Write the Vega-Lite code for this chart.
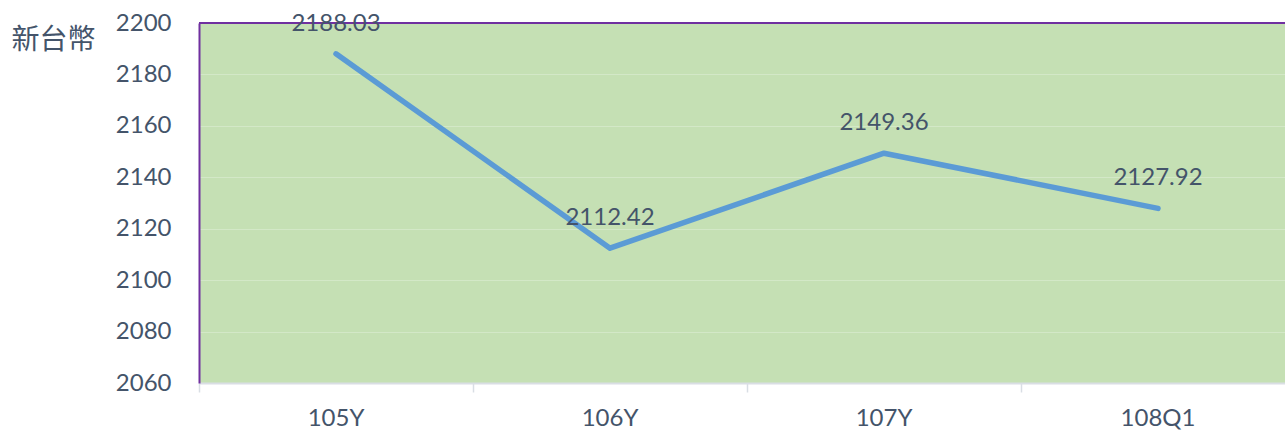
{
  "$schema": "https://vega.github.io/schema/vega-lite/v6.json",
  "autosize": "none",
  "width": 1096,
  "height": 360,
  "padding": {"left": 199, "top": 23, "right": 0, "bottom": 50},
  "background": "white",
  "config": {
    "view": {"fill": "#C5E0B4", "stroke": null},
    "font": "Lato"
  },
  "data": {
    "values": [
      {"period": "105Y", "value": 2188.03},
      {"period": "106Y", "value": 2112.42},
      {"period": "107Y", "value": 2149.36},
      {"period": "108Q1", "value": 2127.92}
    ]
  },
  "encoding": {
    "x": {
      "field": "period",
      "type": "nominal",
      "sort": null,
      "scale": {"type": "band", "paddingInner": 0, "paddingOuter": 0},
      "axis": {
        "title": null,
        "labelAngle": 0,
        "labelFont": "Lato",
        "labelFontSize": 24,
        "labelColor": "#44546A",
        "labelPadding": 14,
        "domainColor": "#D9DEE4",
        "domainWidth": 2,
        "tickColor": "#D9DEE4",
        "tickWidth": 1.5,
        "tickSize": 9,
        "bandPosition": 0,
        "grid": false
      }
    },
    "y": {
      "field": "value",
      "type": "quantitative",
      "scale": {"domain": [2060, 2200], "nice": false, "zero": false},
      "axis": {
        "values": [2060, 2080, 2100, 2120, 2140, 2160, 2180, 2200],
        "format": "d",
        "title": "新台幣",
        "titleAngle": 0,
        "titleFont": "Noto Sans CJK TC",
        "titleFontSize": 28,
        "titleFontWeight": "normal",
        "titleColor": "#44546A",
        "titleAlign": "left",
        "titleBaseline": "middle",
        "titleX": -188,
        "titleY": 17,
        "labelFont": "Lato",
        "labelFontSize": 24,
        "labelColor": "#44546A",
        "labelPadding": 28,
        "ticks": false,
        "domainColor": "#7030A0",
        "domainWidth": 2,
        "gridColor": "#FFFFFF",
        "gridOpacity": 0.25,
        "gridWidth": 1
      }
    }
  },
  "layer": [
    {
      "mark": {"type": "rule", "color": "#7030A0", "strokeWidth": 2},
      "encoding": {"y": {"datum": 2200}, "x": null}
    },
    {
      "mark": {"type": "line", "color": "#5B9BD5", "strokeWidth": 5.5, "strokeCap": "round", "strokeJoin": "round"}
    },
    {
      "mark": {"type": "text", "dy": -30, "fontSize": 24, "font": "Lato", "color": "#44546A", "baseline": "middle"},
      "encoding": {"text": {"field": "value", "type": "quantitative", "format": ".2f"}}
    }
  ]
}
